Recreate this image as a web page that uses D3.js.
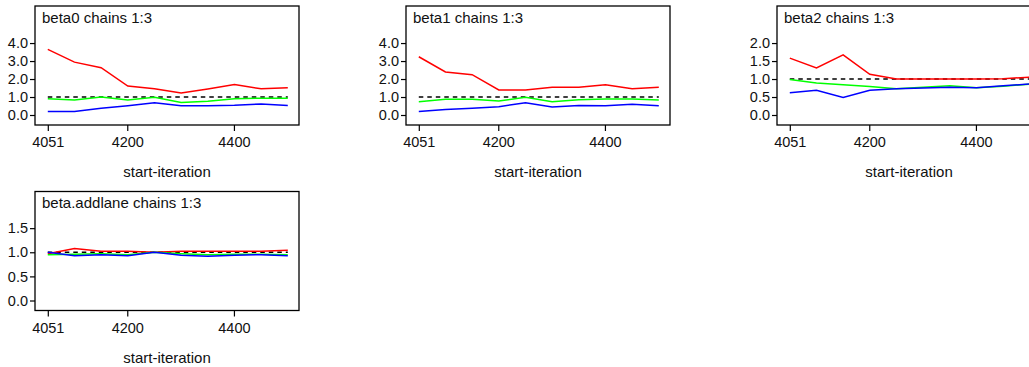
<!DOCTYPE html>
<html>
<head>
<meta charset="utf-8">
<script src="https://cdn.jsdelivr.net/npm/d3@7"></script>
<style>
  body { margin: 0; background: #fff; }
  text { font-family: 'Liberation Sans', Arial, sans-serif; fill: #111; }
</style>
</head>
<body>
<script>
// gelman-rubin style shrink plots, 4 params, 3 chains each
var iterations = [4051, 4101, 4151, 4201, 4251, 4301, 4351, 4401, 4451, 4501];
var xTicks = [4051, 4200, 4400];

var paramNames = ['beta0', 'beta1', 'beta2', 'beta.addlane'];

var beta0Red   = [3.65, 2.94, 2.63, 1.61, 1.46, 1.23, 1.45, 1.69, 1.46, 1.52];
var beta0Green = [0.91, 0.84, 1.00, 0.84, 0.98, 0.69, 0.76, 0.91, 0.93, 0.93];
var beta0Blue  = [0.19, 0.19, 0.37, 0.52, 0.68, 0.52, 0.52, 0.54, 0.61, 0.53];

var beta1Red   = [3.24, 2.39, 2.24, 1.39, 1.39, 1.54, 1.54, 1.68, 1.46, 1.54];
var beta1Green = [0.74, 0.87, 0.87, 0.78, 0.98, 0.74, 0.85, 0.89, 0.89, 0.83];
var beta1Blue  = [0.19, 0.30, 0.37, 0.46, 0.68, 0.45, 0.53, 0.52, 0.60, 0.52];

var beta2Red   = [1.58, 1.31, 1.67, 1.13, 1.00, 1.00, 1.00, 1.00, 1.01, 1.05];
var beta2Green = [0.99, 0.89, 0.84, 0.79, 0.73, 0.77, 0.81, 0.76, 0.80, 0.86];
var beta2Blue  = [0.62, 0.69, 0.49, 0.69, 0.73, 0.75, 0.77, 0.76, 0.81, 0.86];

var addlaneRed   = [0.97, 1.08, 1.02, 1.02, 1.00, 1.02, 1.02, 1.02, 1.02, 1.04];
var addlaneGreen = [0.95, 0.96, 0.97, 0.95, 1.00, 0.97, 0.95, 0.96, 0.96, 0.95];
var addlaneBlue  = [1.00, 0.93, 0.95, 0.93, 1.00, 0.94, 0.92, 0.94, 0.95, 0.93];

var yTickSets = [[0, 1, 2, 3, 4], [0, 1, 2, 3, 4], [0, 0.5, 1, 1.5, 2], [0, 0.5, 1, 1.5]];
var yTops = [6.06, 6.06, 3.03, 2.26];

var g = {};
g.screen = {width: 1029, height: 367};
g.box = {width: 264, height: 119};
g.cols = [35, 406, 777];
g.rows = [6, 191.5];
g.colors = ['#ff0000', '#00ff00', '#0000ff'];

var panels = [
  {name: paramNames[0], chains: [beta0Red, beta0Green, beta0Blue]},
  {name: paramNames[1], chains: [beta1Red, beta1Green, beta1Blue]},
  {name: paramNames[2], chains: [beta2Red, beta2Green, beta2Blue]},
  {name: paramNames[3], chains: [addlaneRed, addlaneGreen, addlaneBlue]}
];

var svg = d3.select('body').append('svg')
  .attr('width', g.screen.width)
  .attr('height', g.screen.height);

svg.append('rect')
  .attr('width', g.screen.width)
  .attr('height', g.screen.height)
  .attr('fill', '#fff');

var x = d3.scaleLinear().domain([4027, 4522]).range([0, g.box.width]);

panels.forEach(function(p, i){
  var left = g.cols[i % 3], top = g.rows[Math.floor(i / 3)];
  var y = d3.scaleLinear()
    .domain([-0.0917 * yTops[i], yTops[i]])
    .range([g.box.height, 0]);

  var pg = svg.append('g').attr('transform', 'translate(' + left + ',' + top + ')');

  // reference line at 1
  pg.append('line')
    .attr('x1', x(iterations[0])).attr('x2', x(iterations[iterations.length - 1]))
    .attr('y1', y(1)).attr('y2', y(1))
    .attr('stroke', '#000').attr('stroke-width', 1.5)
    .attr('stroke-dasharray', '4.5,4');

  var line = d3.line()
    .x(function(d, j){ return x(iterations[j]); })
    .y(function(d){ return y(d); });

  pg.selectAll('path.chain').data(p.chains).enter().append('path')
    .attr('class', 'chain')
    .attr('d', line)
    .attr('fill', 'none')
    .attr('stroke', function(d, j){ return g.colors[j]; })
    .attr('stroke-width', 1.5);

  pg.append('rect')
    .attr('x', 0).attr('y', 0)
    .attr('width', g.box.width).attr('height', g.box.height)
    .attr('fill', 'none').attr('stroke', '#000').attr('stroke-width', 1.3);

  var yAxis = pg.append('g')
    .call(d3.axisLeft(y).tickValues(yTickSets[i]).tickFormat(d3.format('.1f'))
      .tickSize(5).tickPadding(2));
  var xAxis = pg.append('g')
    .attr('transform', 'translate(0,' + g.box.height + ')')
    .call(d3.axisBottom(x).tickValues(xTicks).tickFormat(d3.format('d'))
      .tickSize(6).tickPadding(6));

  [yAxis, xAxis].forEach(function(ax){
    ax.select('.domain').remove();
    ax.selectAll('line').attr('stroke', '#000').attr('stroke-width', 1.2);
    ax.selectAll('text').attr('font-size', 14.5).attr('font-family', null).attr('fill', '#111');
  });

  pg.append('text')
    .attr('x', 7).attr('y', 16.7)
    .attr('font-size', 15)
    .text(p.name + ' chains 1:3');

  pg.append('text')
    .attr('x', g.box.width / 2).attr('y', g.box.height + 52)
    .attr('text-anchor', 'middle')
    .attr('font-size', 15)
    .text('start-iteration');
});
</script>
</body>
</html>
